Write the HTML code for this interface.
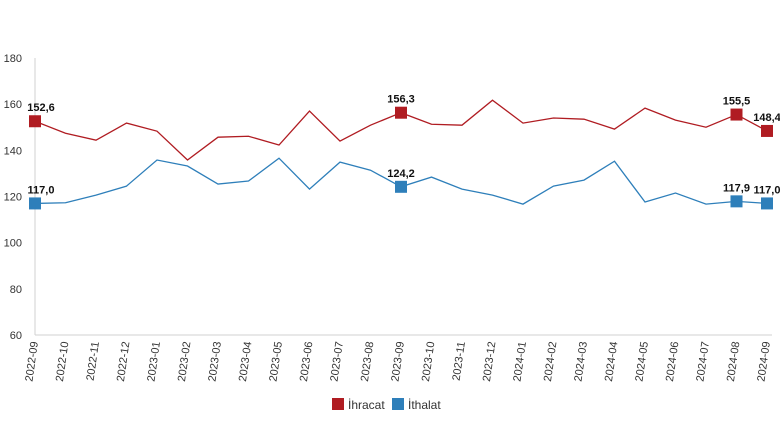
<!DOCTYPE html>
<html><head><meta charset="utf-8"><style>
body{margin:0;background:#fff;font-family:"Liberation Sans",sans-serif}
</style></head><body>
<svg id="c" width="780" height="440" xmlns="http://www.w3.org/2000/svg"></svg>
<script>
const categories=["2022-09","2022-10","2022-11","2022-12","2023-01","2023-02","2023-03","2023-04","2023-05","2023-06","2023-07","2023-08","2023-09","2023-10","2023-11","2023-12","2024-01","2024-02","2024-03","2024-04","2024-05","2024-06","2024-07","2024-08","2024-09"];
const ihracat=[152.6,147.4,144.4,151.8,148.3,135.8,145.7,146.1,142.3,157.0,144.0,150.9,156.3,151.3,150.9,161.7,151.8,154.0,153.5,149.2,158.3,153.1,150.0,155.5,148.4];
const ithalat=[117.0,117.3,120.6,124.5,135.8,133.2,125.4,126.7,136.6,123.2,134.9,131.4,124.2,128.4,123.2,120.6,116.7,124.5,127.1,135.3,117.6,121.5,116.7,117.9,117.0];
const yTicks=[60,80,100,120,140,160,180];
const markIdx=[0,12,23,24];
const svg=document.getElementById('c');const NS="http://www.w3.org/2000/svg";
const x0=35,x1=767,yTop=58,yBot=335;
const x=i=>x0+(x1-x0)*i/(categories.length-1);
const y=v=>yBot-(v-60)/(180-60)*(yBot-yTop);
function el(t,a,p){const e=document.createElementNS(NS,t);for(const k in a)e.setAttribute(k,a[k]);(p||svg).appendChild(e);return e;}
let e=el('line',{x1:x0,y1:yTop,x2:x0,y2:yBot,stroke:'#d0d0d0'});
e=el('line',{x1:x0,y1:yBot,x2:x1+5,y2:yBot,stroke:'#d0d0d0'});
yTicks.forEach(t=>{const tx=el('text',{x:22,y:y(t)+4,'text-anchor':'end','font-size':11,fill:'#333'});tx.textContent=t;
});
categories.forEach((c,i)=>{const tx=el('text',{transform:`translate(${x(i)+3},${yBot+7}) rotate(-82)`,'text-anchor':'end','font-size':11,fill:'#333'});tx.textContent=c;
});
function series(vals,color,name){
 const p=el('polyline',{points:vals.map((v,i)=>x(i)+','+y(v)).join(' '),fill:'none',stroke:color,'stroke-width':1.3});
 
 markIdx.forEach(i=>{const r=el('rect',{x:x(i)-6,y:y(vals[i])-6,width:12,height:12,fill:color});
  
  const t=el('text',{x:x(i)+(i==0?6:0),y:y(vals[i])-10,'text-anchor':'middle','font-size':11,'font-weight':'bold',fill:'#111'});
  t.textContent=vals[i].toFixed(1).replace('.',',');
  });
}
series(ihracat,'#b01c22','ihracat');
series(ithalat,'#2e7fba','ithalat');
const lg=[['İhracat','#b01c22',332],['İthalat','#2e7fba',392]];
lg.forEach(([n,c,lx])=>{const r=el('rect',{x:lx,y:398,width:12,height:12,fill:c});
const t=el('text',{x:lx+16,y:409,'font-size':12,fill:'#333'});t.textContent=n;});
</script>
</body></html>
